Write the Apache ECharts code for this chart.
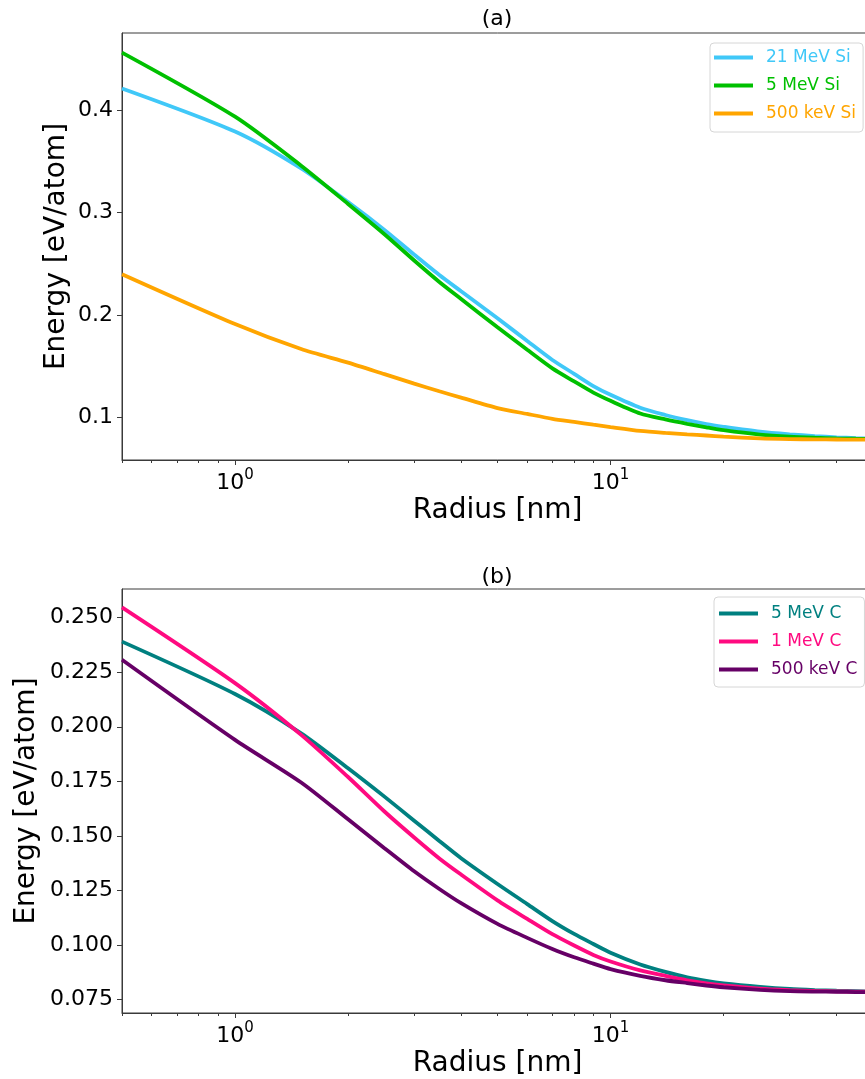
<!DOCTYPE html>
<html><head><meta charset="utf-8">
<script src="https://cdn.jsdelivr.net/npm/echarts@6/dist/echarts.min.js"></script>
<style>html,body{margin:0;padding:0;overflow:hidden;background:#fff;width:865px;height:1079px}#c{width:880px;height:1079px}</style>
</head><body><div id="c"></div>
<script>
// ---- data ----
const radius = [0.5,1,1.5,2,2.5,3,3.5,4,5,6,7,8,9,10,12,14,16,18,20,25,30,35,40,45,50];

const si21MeV = [0.421,0.379,0.343,0.3102,0.2831,0.259,0.2391,0.2233,0.197,0.1748,0.1563,0.1428,0.1309,0.1224,0.1098,0.1027,0.0976,0.0938,0.0912,0.0864,0.0838,0.0821,0.0809,0.0801,0.0796];
const si5MeV  = [0.456,0.3935,0.3457,0.3084,0.2789,0.2533,0.2324,0.2158,0.1882,0.1662,0.1481,0.1354,0.1245,0.1165,0.1042,0.0984,0.0941,0.0907,0.0879,0.0836,0.0815,0.0805,0.0799,0.0795,0.0792];
const si500keV = [0.240,0.1914,0.167,0.1537,0.1425,0.1333,0.1258,0.1196,0.1094,0.1037,0.099,0.0959,0.0932,0.0909,0.0872,0.0852,0.0838,0.0827,0.0816,0.0799,0.0792,0.0789,0.0788,0.0787,0.0786];

const c5MeV   = [0.239,0.215,0.197,0.181,0.168,0.157,0.1477,0.1398,0.128,0.1188,0.111,0.1051,0.1005,0.0965,0.0911,0.0877,0.0852,0.0836,0.0825,0.0809,0.0799,0.0794,0.0791,0.0789,0.0787];
const c1MeV   = [0.2547,0.220,0.1963,0.177,0.1612,0.1493,0.1397,0.1323,0.1205,0.112,0.105,0.0998,0.0955,0.0925,0.0884,0.0859,0.0839,0.0825,0.0816,0.0801,0.0794,0.0790,0.0788,0.0787,0.0786];
const c500keV = [0.2307,0.194,0.1745,0.1576,0.1444,0.1338,0.1257,0.1192,0.1097,0.1033,0.0982,0.0944,0.0915,0.089,0.0859,0.0839,0.0826,0.0815,0.0807,0.0795,0.0789,0.0787,0.0786,0.0785,0.0785];

const namesA = ['21 MeV Si','5 MeV Si','500 keV Si'];
const namesB = ['5 MeV C','1 MeV C','500 keV C'];
const colorsA = ['#40c8f8','#00c000','#ffa500'];
const colorsB = ['#008080','#ff0a80','#660066'];

const xMajorTicks = [1, 10];
const xMinorTicks = [0.5,0.6,0.7,0.8,0.9,2,3,4,5,6,7,8,9,20,30,40,50];
const yTicksA = [0.1,0.2,0.3,0.4];
const yTicksB = [0.075,0.100,0.125,0.150,0.175,0.200,0.225,0.250];
const titles = ['(a)','(b)'];

// ---- chart ----
const FONT = 'DejaVu Sans';
const AX = '#3a3a3a';
const pair = ys => radius.map((x,i)=>[x, ys[i]]);

function xAxes(g){
  return [
    {type:'log', logBase:10, gridIndex:g, position:'bottom', min:0.5, max:50,
     axisLine:{show:true, lineStyle:{color:AX, width:1}},
     axisTick:{show:true, customValues:xMajorTicks, length:5, lineStyle:{color:AX, width:1}},
     axisLabel:{show:true, customValues:xMajorTicks, margin:8,
       formatter: v => '{b|10}{s|' + Math.round(Math.log10(v)) + '}',
       rich:{b:{fontFamily:FONT, fontSize:22, color:'#000', lineHeight:26, verticalAlign:'bottom'},
             s:{fontFamily:FONT, fontSize:15, color:'#000', lineHeight:26, verticalAlign:'top'}}},
     splitLine:{show:false},
     name:'Radius [nm]', nameLocation:'middle', nameGap:37,
     nameTextStyle:{fontFamily:FONT, fontSize:28, color:'#000'}},
    {type:'log', logBase:10, gridIndex:g, position:'bottom', min:0.5, max:50,
     axisLine:{show:false},
     axisTick:{show:true, customValues:xMinorTicks, length:3, lineStyle:{color:AX, width:1}},
     axisLabel:{show:false}, splitLine:{show:false}}
  ];
}
function yAxis(g, min, max, ticks, dec, gap){
  return {type:'value', gridIndex:g, min, max,
    axisLine:{show:true, lineStyle:{color:AX, width:1}},
    axisTick:{show:true, customValues:ticks, length:5, lineStyle:{color:AX, width:1}},
    axisLabel:{customValues:ticks, formatter:v=>v.toFixed(dec), margin:9,
      fontFamily:FONT, fontSize:22, color:'#000'},
    splitLine:{show:false},
    name:'Energy [eV/atom]', nameLocation:'middle', nameGap:gap, nameMoveOverlap:false,
    nameTextStyle:{fontFamily:FONT, fontSize:28, color:'#000'}};
}
function legend(names, colors, left, top, pad){
  return {orient:'vertical', left, top, icon:'rect', itemWidth:39, itemHeight:4, itemGap:11,
    padding:pad, borderColor:'#d6d6d6', borderWidth:1, borderRadius:4, backgroundColor:'#fff',
    selectedMode:false,
    textStyle:{fontFamily:FONT, fontSize:17, lineHeight:14, padding:[0,0,0,8]},
    data:names.map((n,i)=>({name:n, textStyle:{color:colors[i]}}))};
}
function lines(names, colors, data, xi, yi){
  return names.map((n,i)=>({type:'line', name:n, xAxisIndex:xi, yAxisIndex:yi, data:pair(data[i]),
    showSymbol:false, symbol:'none', smooth:0.25, color:colors[i],
    lineStyle:{width:3.8, color:colors[i]}, emphasis:{disabled:true}, z:2}));
}

const option = {
  animation:false,
  backgroundColor:'#fff',
  grid:[
    {left:122, top:33, width:751, height:427, show:true, borderColor:AX, borderWidth:1, containLabel:false},
    {left:122, top:589, width:751, height:426, show:true, borderColor:AX, borderWidth:1, containLabel:false}
  ],
  xAxis:[...xAxes(0), ...xAxes(1)],
  yAxis:[yAxis(0, 0.0588, 0.4751, yTicksA, 1, 51), yAxis(1, 0.0689, 0.2631, yTicksB, 3, 81)],
  legend:[legend(namesA, colorsA, 710, 43, [6,7,10,4]), legend(namesB, colorsB, 714, 597, [8,7,9,5])],
  graphic:[
    {type:'text', x:497, y:19, style:{text:titles[0], fontFamily:FONT, fontSize:22, fill:'#000', textAlign:'center', textVerticalAlign:'middle'}},
    {type:'text', x:497, y:577, style:{text:titles[1], fontFamily:FONT, fontSize:22, fill:'#000', textAlign:'center', textVerticalAlign:'middle'}}
  ],
  series:[
    ...lines(namesA, colorsA, [si21MeV, si5MeV, si500keV], 0, 0),
    ...lines(namesB, colorsB, [c5MeV, c1MeV, c500keV], 2, 1)
  ]
};
const chart = echarts.init(document.getElementById('c'));
chart.setOption(option);
</script></body></html>
